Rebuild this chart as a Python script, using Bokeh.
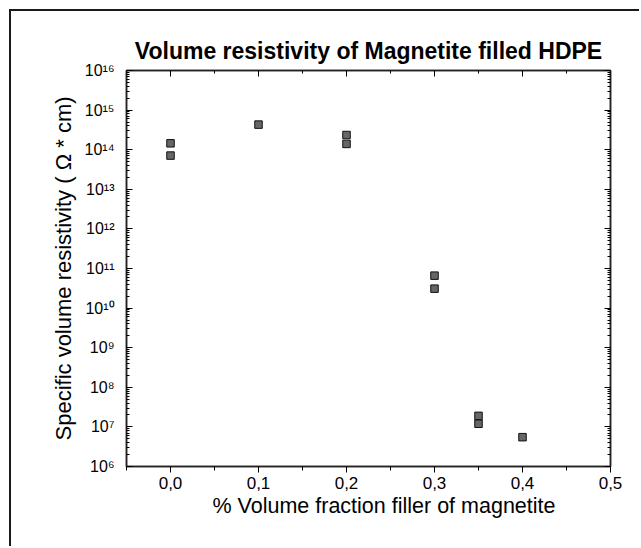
from bokeh.plotting import figure
from bokeh.models import LogAxis, LinearAxis, FixedTicker, CustomJSTickFormatter, Range1d, ColumnDataSource, Title
from bokeh.embed import file_html
from bokeh.resources import INLINE

# ---- data ----
fraction = [0.0, 0.0, 0.1, 0.2, 0.2, 0.3, 0.3, 0.35, 0.35, 0.4]
resistivity = [1.45e14, 7.1e13, 4.3e14, 2.35e14, 1.4e14, 6.6e10, 3.1e10, 1.9e7, 1.2e7, 5.5e6]

x_ticks = [0.0, 0.1, 0.2, 0.3, 0.4, 0.5]
x_tick_labels = ["0,0", "0,1", "0,2", "0,3", "0,4", "0,5"]
y_ticks = [1e6, 1e7, 1e8, 1e9, 1e10, 1e11, 1e12, 1e13, 1e14, 1e15, 1e16]
y_tick_labels = ["10\u2076", "10\u2077", "10\u2078", "10\u2079", "10\u00b9\u2070", "10\u00b9\u00b9",
                 "10\u00b9\u00b2", "10\u00b9\u00b3", "10\u00b9\u2074", "10\u00b9\u2075", "10\u00b9\u2076"]

title_text = "Volume resistivity of Magnetite filled HDPE"
x_label = "% Volume fraction filler of magnetite"
y_label = "Specific volume resistivity ( \u03a9 * cm)"

FONT = "Liberation Sans"

src = ColumnDataSource(data=dict(x=fraction, y=resistivity))

p = figure(width=630, height=537, output_backend="svg", toolbar_location=None,
           x_range=Range1d(-0.05, 0.5), y_range=Range1d(1e6, 1e16), y_axis_type="log",
           min_border_left=115, min_border_right=31, min_border_top=59, min_border_bottom=82,
           background_fill_color="white", border_fill_color="white")
p.margin = (11, 0, 0, 11)
p.styles = {"box-shadow": "-2px -2px 0px 0px #1a1a1a"}

p.grid.visible = False
p.outline_line_color = "#222222"
p.outline_line_width = 1.5

p.title.text = title_text
p.title.align = "center"
p.title.text_font = FONT
p.title.text_font_size = "23px"
p.title.text_font_style = "bold"
p.title.text_color = "black"
p.title.standoff = 14

x_minor = [(a + b) / 2 for a, b in zip([-0.1] + x_ticks[:-1], x_ticks)]
y_minor = [k * t for t in y_ticks[:-1] for k in range(2, 10)]

xticker = FixedTicker(ticks=x_ticks, minor_ticks=x_minor)
yticker = FixedTicker(ticks=y_ticks, minor_ticks=y_minor)

xfmt = CustomJSTickFormatter(args=dict(tvals=x_ticks, labs=x_tick_labels), code="""
for (let i = 0; i < tvals.length; i++) { if (Math.abs(tvals[i] - tick) < 1e-9) return labs[i]; }
return '';
""")
yfmt = CustomJSTickFormatter(args=dict(tvals=y_ticks, labs=y_tick_labels), code="""
for (let i = 0; i < tvals.length; i++) { if (Math.abs(Math.log10(tvals[i]) - Math.log10(tick)) < 1e-6) return labs[i]; }
return '';
""")
empty = CustomJSTickFormatter(code="return '';")

xa = p.xaxis[0]
xa.ticker = xticker
xa.formatter = xfmt
xa.major_tick_out = 6
xa.major_tick_in = 0
xa.minor_tick_out = 4
xa.minor_tick_in = 0
xa.major_label_standoff = 4
xa.major_label_text_font = FONT
xa.major_label_text_font_size = "17px"
xa.major_label_text_color = "black"
xa.axis_line_color = "#222222"
xa.axis_line_width = 1.5

# x-axis title, slightly right of centre as in the reference
p.add_layout(Title(text=x_label, align="left", offset=86, standoff=0,
                   text_font=FONT, text_font_size="21.5px", text_font_style="normal",
                   text_color="black"), "below")

ya = p.yaxis[0]
ya.ticker = yticker
ya.formatter = yfmt
ya.major_tick_out = 0
ya.major_tick_in = 6
ya.minor_tick_out = 0
ya.minor_tick_in = 3
ya.major_label_standoff = 12
ya.major_label_text_font = FONT
ya.major_label_text_font_size = "16px"
ya.major_label_text_color = "black"
ya.axis_label = y_label
ya.axis_label_text_font = FONT
ya.axis_label_text_font_size = "22px"
ya.axis_label_text_font_style = "normal"
ya.axis_label_text_color = "black"
ya.axis_label_standoff = 6
ya.axis_line_color = "#222222"
ya.axis_line_width = 1.5

top = LinearAxis(ticker=xticker, formatter=empty, major_tick_in=6, major_tick_out=0,
                 minor_tick_in=3, minor_tick_out=0, major_label_standoff=0,
                 axis_line_color="#222222", axis_line_width=1.5)
right = LogAxis(ticker=yticker, formatter=empty, major_tick_in=6, major_tick_out=0,
                minor_tick_in=3, minor_tick_out=0, major_label_standoff=0,
                axis_line_color="#222222", axis_line_width=1.5)
p.add_layout(top, "above")
p.add_layout(right, "right")

p.scatter("x", "y", source=src, marker="square", size=7.5,
          fill_color="#666666", line_color="#111111", line_width=1)

open("out.html", "w").write(file_html(p, INLINE))
